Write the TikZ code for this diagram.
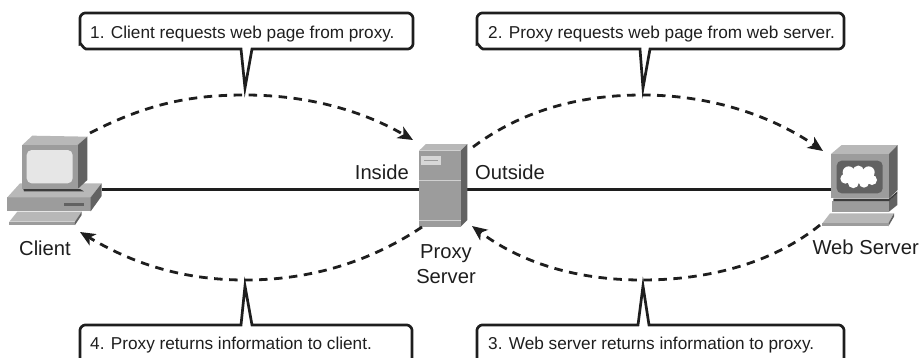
\documentclass[tikz,border=0pt]{standalone}
\usepackage{fontspec}
\setmainfont{Liberation Sans}
\usetikzlibrary{arrows.meta}
\definecolor{ink}{HTML}{1E1E1E}
\definecolor{faceg}{HTML}{9C9C9C}
\definecolor{topg}{HTML}{B8B8B8}
\definecolor{sideg}{HTML}{626262}
\definecolor{screeng}{HTML}{E6E6E6}
\definecolor{darkg}{HTML}{3C3C3C}
\tikzset{
  lbl/.style={font=\fontsize{17.2}{20}\selectfont,text=ink,inner sep=0pt},
  biglbl/.style={font=\fontsize{20.2}{24}\selectfont,text=ink,inner sep=0pt,anchor=base},
  callout/.style={draw=ink,line width=2.7pt,fill=white,line join=miter},
  flow/.style={draw=ink,line width=2.8pt,dash pattern=on 8.5pt off 6.5pt,-{Stealth[length=15pt,width=13pt,inset=4pt]}},
  wire/.style={draw=ink,line width=3pt},
  icon/.style={x=0.33333pt,y=-0.33333pt}
}
\begin{document}
\begin{tikzpicture}[x=1pt,y=-1pt]
\useasboundingbox (0,0) rectangle (921,357);

% anchors for icons
\node[inner sep=0pt,minimum width=78pt,minimum height=30pt] (client) at (63,189) {};
\node[inner sep=0pt,minimum width=42pt,minimum height=76pt] (proxy) at (441,189) {};
\node[inner sep=0pt,minimum width=70pt,minimum height=30pt] (web) at (866,189) {};

% wires
\draw[wire] (client) -- (proxy);
\draw[wire] (proxy) -- (web);

% client icon
\begin{scope}[shift={(0,120)},icon]
 \fill[faceg] (22,232) -- (272,232) -- (272,274) -- (22,274) -- cycle;
 \fill[topg] (22,232) -- (60,190) -- (305,190) -- (272,232) -- cycle;
 \fill[sideg] (272,232) -- (305,190) -- (305,228) -- (272,274) -- cycle;
 \fill[darkg] (70,207) -- (240,207) -- (252,214) -- (72,214) -- cycle;
 \fill[sideg] (192,250) rectangle (252,257);
 \fill[topg] (28,305) -- (52,275) -- (245,275) -- (225,305) -- cycle;
 \fill[faceg] (28,305) rectangle (225,315);
 \fill[sideg] (225,305) -- (245,275) -- (245,285) -- (225,315) -- cycle;
 \fill[topg] (67,75) -- (97,47) -- (262,50) -- (233,75) -- cycle;
 \fill[sideg] (233,75) -- (262,50) -- (262,180) -- (233,207) -- cycle;
 \fill[faceg] (67,75) rectangle (233,207);
 \fill[screeng,rounded corners=5pt] (80,90) rectangle (218,190);
\end{scope}

% proxy icon
\begin{scope}[shift={(400,120)},icon]
 \fill[topg] (57,92) -- (78,72) -- (202,72) -- (182,92) -- cycle;
 \fill[sideg] (182,92) -- (202,72) -- (202,300) -- (182,320) -- cycle;
 \fill[faceg] (57,92) rectangle (182,320);
 \fill[screeng!80!faceg] (63,108) rectangle (122,135);
 \fill[faceg] (72,120) rectangle (115,123);
 \fill[screeng!70!faceg] (57,179) rectangle (182,182);
 \fill[screeng!70!faceg] (57,301) rectangle (182,304);
\end{scope}

% web server icon
\begin{scope}[shift={(790,130)},icon]
 \fill[faceg] (127,212) rectangle (297,245);
 \fill[sideg] (297,212) -- (322,190) -- (322,225) -- (297,245) -- cycle;
 \fill[darkg] (130,206) -- (297,206) -- (322,184) -- (322,190) -- (297,213) -- (130,213) -- cycle;
 \fill[topg] (97,280) -- (120,250) -- (312,250) -- (295,280) -- cycle;
 \fill[faceg] (97,280) rectangle (295,289);
 \fill[sideg] (295,280) -- (312,250) -- (312,260) -- (295,289) -- cycle;
 \fill[topg] (123,72) -- (155,45) -- (323,45) -- (297,72) -- cycle;
 \fill[sideg] (297,72) -- (323,45) -- (323,180) -- (297,205) -- cycle;
 \fill[faceg] (123,72) rectangle (297,205);
 \fill[sideg,rounded corners=5pt] (140,92) rectangle (278,190);
 \fill[white] (172,130) -- (205,122) -- (238,125) -- (250,150) -- (222,160) -- (190,160) -- (165,147) -- cycle;
 \fill[white] (176,127) circle[radius=6pt] (205,123) circle[radius=5.5pt] (236,127) circle[radius=6pt]
   (246,150) circle[radius=5pt] (222,158) circle[radius=5pt] (190,158) circle[radius=5.5pt] (166,146) circle[radius=5pt];
\end{scope}

% flow arcs
\coordinate (a1s) at (90,133);
\coordinate (a1e) at (413,140);
\coordinate (a2s) at (473,147);
\coordinate (a2e) at (823,151);
\coordinate (a3s) at (820,225);
\coordinate (a3e) at (472,226);
\coordinate (a4s) at (422,227);
\coordinate (a4e) at (80,232);
\draw[flow] (a1s) .. controls (150,102) and (195,95) .. (245,95) .. controls (310,95) and (365,112) .. (a1e);
\draw[flow] (a2s) .. controls (525,108) and (585,95) .. (642,95) .. controls (715,95) and (775,118) .. (a2e);
\draw[flow] (a3s) .. controls (770,265) and (705,280) .. (642,280) .. controls (575,280) and (520,262) .. (a3e);
\draw[flow] (a4s) .. controls (365,265) and (305,280) .. (245,280) .. controls (180,280) and (130,262) .. (a4e);

% callouts
\coordinate (t1) at (245,88);
\coordinate (t2) at (643,88);
\coordinate (t3) at (643,286);
\coordinate (t4) at (245,286);
\draw[callout] (241,49) -- (86,49) to[out=180,in=90,looseness=0.8] (80,44) -- (80,18) to[out=90,in=180,looseness=0.8] (85,13) -- (408,13) to[out=0,in=90,looseness=0.8] (413,18) -- (413,44) to[out=-90,in=0,looseness=0.8] (408,49) -- (252,49) -- (t1) -- cycle;
\draw[callout] (640,49) -- (483,49) to[out=180,in=90,looseness=0.8] (477,44) -- (477,18) to[out=90,in=180,looseness=0.8] (482,13) -- (839,13) to[out=0,in=90,looseness=0.8] (844,18) -- (844,44) to[out=-90,in=0,looseness=0.8] (839,49) -- (650,49) -- (t2) -- cycle;
\draw[callout] (80,365) -- (80,330) to[out=90,in=180,looseness=0.8] (85,325) -- (241,325) -- (t4) -- (252,325) -- (407,325) to[out=0,in=90,looseness=0.8] (412,330) -- (412,365);
\draw[callout] (477,365) -- (477,330) to[out=90,in=180,looseness=0.8] (482,325) -- (638,325) -- (t3) -- (649,325) -- (839,325) to[out=0,in=90,looseness=0.8] (844,330) -- (844,365);

\node[lbl,anchor=base west] (c1) at (90,38) {1. Client requests web page from proxy.};
\node[lbl,anchor=base west] (c2) at (488,38) {2. Proxy requests web page from web server.};
\node[lbl,anchor=base west] (c3) at (488,349) {3. Web server returns information to proxy.};
\node[lbl,anchor=base west] (c4) at (90,349) {4. Proxy returns information to client.};

% labels
\node[biglbl] (lc) at (45,255) {Client};
\node[biglbl,anchor=base east] (li) at (409,179) {Inside};
\node[biglbl,anchor=base west] (lo) at (475,179) {Outside};
\node[biglbl] (lp1) at (446,258) {Proxy};
\node[biglbl] (lp2) at (446,283) {Server};
\node[biglbl,anchor=base east] (lw) at (919,254) {Web Server};
\end{tikzpicture}
\end{document}
